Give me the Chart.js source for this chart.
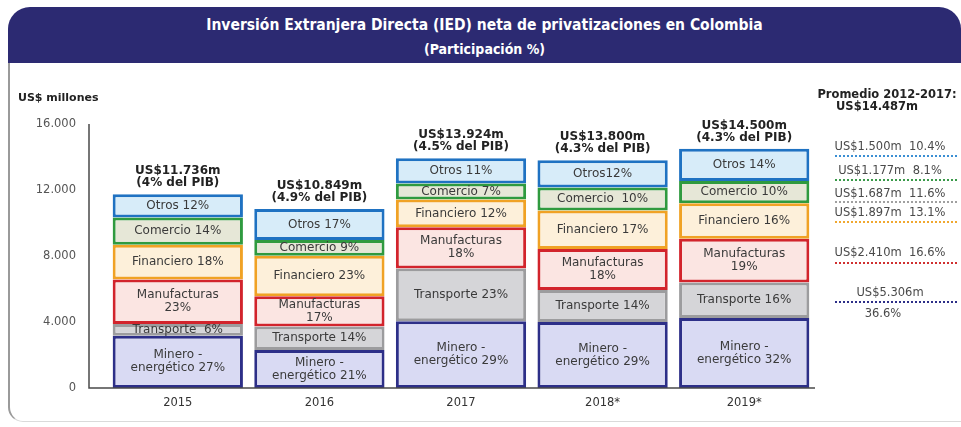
<!DOCTYPE html>
<html>
<head>
<meta charset="utf-8">
<script src="https://cdn.jsdelivr.net/npm/chart.js@4"></script>
<style>
  html, body { margin: 0; padding: 0; background: #ffffff; }
  #wrap { position: relative; width: 961px; height: 427px; overflow: hidden; background: #fff; }
  #head { position: absolute; left: 8px; top: 7px; width: 953px; height: 56px; background: #2c2a72;
          border-radius: 22px 22px 0 0; color: #fff; text-align: center;
          font-family: "DejaVu Sans Condensed", "DejaVu Sans", sans-serif; font-weight: bold; font-stretch: condensed; }
  #head .t1 { position: absolute; left: 0; right: 0; top: 9px; font-size: 15.5px; }
  #head .t2 { position: absolute; left: 0; right: 0; top: 34px; font-size: 14px; }
  #card { position: absolute; left: 8px; top: 63px; width: 960px; height: 358px;
          border-left: 2px solid #9a9a9a; border-bottom: 1px solid #dadada; border-bottom-left-radius: 15px; }
  canvas { position: absolute; left: 0; top: 0; }
</style>
</head>
<body>
<div id="wrap">
  <div id="head">
    <div class="t1">Inversión Extranjera Directa (IED) neta de privatizaciones en Colombia</div>
    <div class="t2">(Participación %)</div>
  </div>
  <div id="card"></div>
  <canvas id="c" width="961" height="427"></canvas>
</div>
<script>
// ---- Data (US$ millones) ----
const years = ['2015', '2016', '2017', '2018*', '2019*'];
const minero       = [3169, 2300, 4038, 4002, 4250];
const transporte   = [704, 1420, 3203, 1932, 2150];
const manufacturas = [2699, 1844, 2506, 2484, 2640];
const financiero   = [2112, 2450, 1671, 2346, 2150];
const comercio     = [1643, 950, 975, 1380, 1350];
const otros        = [1408, 1885, 1532, 1656, 1960];

// segment labels (as printed)
const mineroLbl = [['Minero -', 'energético 27%'], ['Minero -', 'energético 21%'], ['Minero -', 'energético 29%'], ['Minero -', 'energético 29%'], ['Minero -', 'energético 32%']];
const transporteLbl = [['Transporte  6%'], ['Transporte 14%'], ['Transporte 23%'], ['Transporte 14%'], ['Transporte 16%']];
const manufLbl = [['Manufacturas', '23%'], ['Manufacturas', '17%'], ['Manufacturas', '18%'], ['Manufacturas', '18%'], ['Manufacturas', '19%']];
const financieroLbl = [['Financiero 18%'], ['Financiero 23%'], ['Financiero 12%'], ['Financiero 17%'], ['Financiero 16%']];
const comercioLbl = [['Comercio 14%'], ['Comercio 9%'], ['Comercio 7%'], ['Comercio  10%'], ['Comercio 10%']];
const otrosLbl = [['Otros 12%'], ['Otros 17%'], ['Otros 11%'], ['Otros12%'], ['Otros 14%']];

// totals above bars
const totalLbl = ['US$11.736m', 'US$10.849m', 'US$13.924m', 'US$13.800m', 'US$14.500m'];
const pibLbl = ['(4% del PIB)', '(4.9% del PIB)', '(4.5% del PIB)', '(4.3% del PIB)', '(4.3% del PIB)'];

// y ticks
const yTicks = [0, 4000, 8000, 12000, 16000];
const yTickLbl = ['0', '4.000', '8.000', '12.000', '16.000'];

// right side: promedio 2012-2017
const promTitle = ['Promedio 2012-2017:', 'US$14.487m'];
const promLbl = [['US$1.500m  10.4%'], ['US$1.177m  8.1%'], ['US$1.687m  11.6%'], ['US$1.897m  13.1%'], ['US$2.410m  16.6%'], ['US$5.306m', '36.6%']];

const FONT = '"DejaVu Sans", Verdana, sans-serif';

const segs = [
  { label: 'Minero-energético', data: minero, lbl: mineroLbl, border: '#2d2f88', fill: '#d9daf3' },
  { label: 'Transporte', data: transporte, lbl: transporteLbl, border: '#9c9c9e', fill: '#d5d5d8' },
  { label: 'Manufacturas', data: manufacturas, lbl: manufLbl, border: '#d2242c', fill: '#fbe5e2' },
  { label: 'Financiero', data: financiero, lbl: financieroLbl, border: '#f0a225', fill: '#fdf0da' },
  { label: 'Comercio', data: comercio, lbl: comercioLbl, border: '#2f9a3f', fill: '#e6e7d7' },
  { label: 'Otros', data: otros, lbl: otrosLbl, border: '#1f72c2', fill: '#d7ecf9' }
];
const promColors = ['#3b8fd3', '#3a9a4a', '#a0a0a0', '#f0a830', '#d03030', '#2d2f88'];

const labelPlugin = {
  id: 'labels',
  afterDatasetsDraw(chart) {
    const ctx = chart.ctx;
    const ca = chart.chartArea;
    ctx.save();
    ctx.textAlign = 'center';
    ctx.textBaseline = 'middle';
    // segment labels
    chart.data.datasets.forEach((ds, di) => {
      const meta = chart.getDatasetMeta(di);
      meta.data.forEach((el, i) => {
        const lines = ds.segLbl[i];
        const cy = (el.y + el.base) / 2;
        const lh = 13;
        ctx.font = '12px ' + FONT;
        ctx.fillStyle = '#3a3a3a';
        lines.forEach((t, k) => {
          ctx.fillText(t, el.x, cy + (k - (lines.length - 1) / 2) * lh);
        });
      });
    });
    // totals
    const last = chart.getDatasetMeta(chart.data.datasets.length - 1);
    last.data.forEach((el, i) => {
      ctx.font = 'bold 12px ' + FONT;
      ctx.fillStyle = '#222';
      ctx.fillText(totalLbl[i], el.x, el.y - 23);
      ctx.fillText(pibLbl[i], el.x, el.y - 11);
    });
    // axis lines
    ctx.strokeStyle = '#4a4a4a';
    ctx.lineWidth = 1.5;
    ctx.beginPath();
    ctx.moveTo(ca.left - 18, ca.top);
    ctx.lineTo(ca.left - 18, ca.bottom);
    ctx.lineTo(ca.right, ca.bottom);
    ctx.stroke();
    // y axis title
    ctx.textAlign = 'left';
    ctx.font = 'bold 11px ' + FONT;
    ctx.fillStyle = '#222';
    ctx.fillText('US$ millones', 18, 98);
    // promedio block
    ctx.textAlign = 'center';
    const px = ca.right + 73;
    ctx.font = 'bold 11.5px ' + FONT;
    ctx.fillStyle = '#222';
    ctx.fillText(promTitle[0], ca.right + 72, 95);
    ctx.fillText(promTitle[1], ca.right + 62, 107);
    const ty = [147, 171, 194, 213, 253, 293];
    const ly = [156, 180, 202, 222, 263, 302];
    promLbl.forEach((lines, k) => {
      ctx.font = '11.5px ' + FONT;
      ctx.fillStyle = '#4a4a4a';
      ctx.fillText(lines[0], px + 2, ty[k]);
      if (lines[1]) ctx.fillText(lines[1], px - 5, ty[k] + 21);
      ctx.strokeStyle = promColors[k];
      ctx.lineWidth = 2;
      ctx.setLineDash([2, 2]);
      ctx.beginPath();
      ctx.moveTo(ca.right + 20, ly[k]);
      ctx.lineTo(ca.right + 142, ly[k]);
      ctx.stroke();
      ctx.setLineDash([]);
    });
    ctx.restore();
  }
};

new Chart(document.getElementById('c'), {
  type: 'bar',
  data: {
    labels: years,
    datasets: segs.map(s => ({
      label: s.label,
      data: s.data,
      segLbl: s.lbl,
      backgroundColor: s.fill,
      borderColor: s.border,
      borderWidth: 3,
      borderSkipped: false,
      categoryPercentage: 1,
      barPercentage: 0.92
    }))
  },
  options: {
    responsive: false,
    animation: false,
    devicePixelRatio: 1,
    layout: { padding: { left: 0, right: 146, top: 124, bottom: 14 } },
    plugins: { legend: { display: false }, tooltip: { enabled: false }, title: { display: false } },
    scales: {
      x: {
        stacked: true,
        grid: { display: false, drawTicks: false },
        border: { display: false },
        ticks: { color: '#333', font: { family: FONT, size: 11.5 }, padding: 8 },
        afterFit(s) { s.height = 25; }
      },
      y: {
        stacked: true,
        min: 0, max: 16000,
        grid: { display: false, drawTicks: false },
        border: { display: false },
        afterBuildTicks(s) { s.ticks = yTicks.map(v => ({ value: v })); },
        ticks: {
          color: '#555', font: { family: FONT, size: 11.5 }, padding: 31,
          callback(v) { const i = yTicks.indexOf(v); return i >= 0 ? yTickLbl[i] : ''; }
        },
        afterFit(s) { s.width = 107; }
      }
    }
  },
  plugins: [labelPlugin]
});
</script>
</body>
</html>
